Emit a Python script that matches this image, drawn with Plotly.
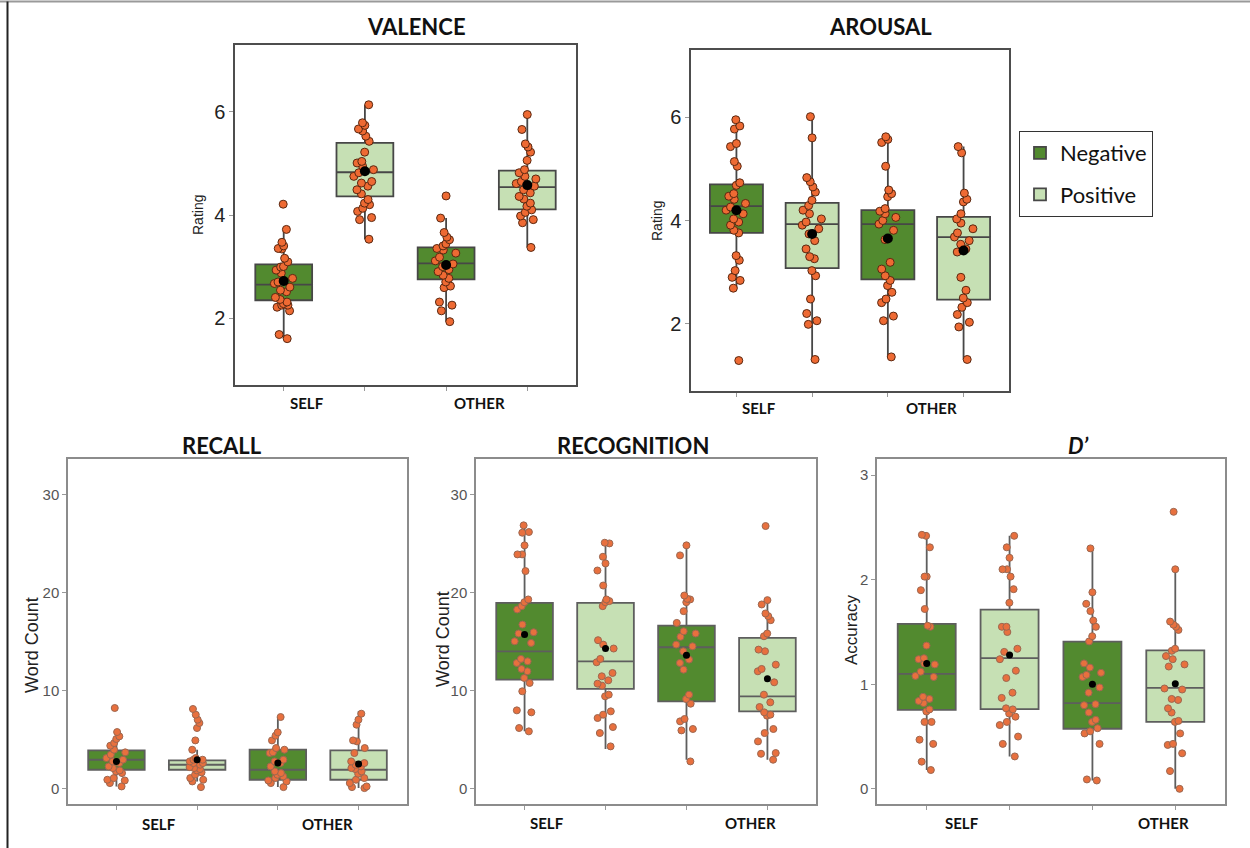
import plotly.graph_objects as go

# ---------------- data ----------------
groups = ["Self Negative", "Self Positive", "Other Negative", "Other Positive"]
conditions = ["Negative", "Positive", "Negative", "Positive"]
group_pos = [1, 2, 3, 4]
legend_labels = ["Negative", "Positive"]

valence_self_neg = [4.21, 3.72, 3.47, 3.40, 3.35, 3.34, 3.16, 3.09, 2.99, 2.93, 3.00, 2.87, 2.77, 2.70, 2.67, 2.60, 2.54, 2.51, 2.40, 2.36, 2.31, 2.28, 2.25, 2.21, 2.14, 2.25, 1.68, 1.60]
valence_self_pos = [6.14, 5.79, 5.74, 5.67, 5.63, 5.53, 5.43, 5.22, 5.04, 5.01, 4.95, 4.88, 4.82, 4.75, 4.65, 4.62, 4.56, 4.49, 4.41, 4.30, 4.23, 4.20, 4.13, 4.07, 3.95, 3.91, 3.53]
valence_other_neg = [4.37, 3.94, 3.66, 3.57, 3.52, 3.44, 3.40, 3.35, 3.32, 3.26, 3.18, 3.11, 3.05, 3.00, 2.94, 2.90, 2.83, 2.77, 2.70, 2.62, 2.59, 2.31, 2.25, 2.14, 1.93]
valence_other_pos = [5.95, 5.66, 5.38, 5.32, 5.22, 5.06, 4.88, 4.82, 4.75, 4.70, 4.65, 4.61, 4.56, 4.49, 4.43, 4.36, 4.31, 4.23, 4.17, 4.10, 4.05, 3.98, 3.91, 3.85, 3.37]
valence_q1 = [2.345, 4.36, 2.75, 4.11]
valence_median = [2.65, 4.83, 3.06, 4.54]
valence_q3 = [3.04, 5.40, 3.37, 4.86]
valence_low = [1.60, 3.53, 1.93, 3.37]
valence_high = [3.72, 6.14, 3.94, 5.95]
valence_mean = [2.72, 4.85, 3.03, 4.58]
valence_ticks = [2, 4, 6]

arousal_self_neg = [5.95, 5.83, 5.77, 5.49, 5.43, 5.14, 5.05, 4.73, 4.68, 4.52, 4.47, 4.41, 4.33, 4.26, 4.20, 4.13, 4.03, 3.97, 3.91, 3.81, 3.76, 3.32, 3.23, 3.03, 2.90, 2.84, 2.69, 1.29]
arousal_self_pos = [6.01, 5.60, 4.83, 4.75, 4.65, 4.55, 4.39, 4.29, 4.20, 4.13, 4.03, 3.97, 3.91, 3.84, 3.74, 3.61, 3.45, 3.30, 3.26, 3.03, 2.93, 2.48, 2.20, 2.06, 1.99, 1.31]
arousal_other_neg = [5.62, 5.57, 5.51, 5.05, 4.59, 4.52, 4.46, 4.23, 4.18, 4.13, 4.06, 4.00, 3.93, 3.81, 3.63, 3.19, 3.06, 2.93, 2.84, 2.74, 2.61, 2.48, 2.41, 2.15, 2.06, 1.36]
arousal_other_pos = [5.43, 5.31, 4.53, 4.41, 4.36, 4.13, 4.03, 3.95, 3.84, 3.76, 3.68, 3.61, 3.54, 3.45, 3.39, 2.90, 2.65, 2.50, 2.41, 2.32, 2.18, 2.03, 1.94, 1.31]
arousal_q1 = [3.76, 3.08, 2.86, 2.47]
arousal_median = [4.28, 3.93, 3.93, 3.68]
arousal_q3 = [4.70, 4.34, 4.20, 4.07]
arousal_low = [2.69, 1.31, 1.36, 1.31]
arousal_high = [5.95, 6.01, 5.62, 5.43]
arousal_mean = [4.20, 3.74, 3.65, 3.42]
arousal_ticks = [2, 4, 6]

recall_self_neg = [8.23, 5.78, 5.34, 4.66, 3.98, 3.71, 3.47, 3.13, 2.79, 2.62, 2.28, 1.87, 1.60, 1.09, 0.85, 0.58, 0.24, 5.07, 4.39, 2.11, 2.96, 1.77, 0.92]
recall_self_pos = [8.13, 7.55, 7.04, 6.70, 6.19, 4.93, 3.98, 3.13, 2.96, 2.79, 2.62, 2.45, 2.21, 2.01, 1.87, 1.67, 1.43, 1.09, 0.92, 0.75, 0.17, 2.96, 2.62, 2.11]
recall_other_neg = [7.31, 5.75, 5.41, 4.93, 4.15, 3.98, 3.71, 2.79, 2.62, 1.77, 1.60, 1.26, 1.09, 0.85, 0.58, 0.17, 2.96, 2.28, 1.43, 0.75, 3.64]
recall_other_pos = [7.65, 7.04, 6.53, 4.93, 4.83, 4.15, 3.64, 2.62, 2.45, 2.28, 2.01, 1.77, 1.53, 1.09, 0.92, 0.58, 0.17, 0.07, 0.24, 2.79, 2.11]
recall_q1 = [1.94, 1.94, 0.92, 0.92]
recall_median = [2.96, 2.45, 1.94, 1.94]
recall_q3 = [3.91, 2.89, 3.98, 3.91]
recall_low = [0.24, 0.75, 0.17, 0.07]
recall_high = [5.78, 3.98, 7.31, 7.89]
recall_mean = [2.79, 2.96, 2.62, 2.52]
count_ticks = [0, 10, 20, 30]

recognition_self_neg = [26.84, 26.16, 26.09, 24.80, 23.88, 23.88, 22.18, 19.29, 19.01, 18.61, 18.27, 16.73, 15.95, 15.82, 15.03, 14.86, 13.23, 12.99, 12.82, 12.21, 11.97, 11.29, 10.78, 9.93, 7.99, 7.79, 6.19, 5.85]
recognition_self_pos = [25.07, 25.00, 23.64, 22.96, 22.24, 20.71, 19.29, 19.12, 18.61, 19.01, 15.14, 14.69, 14.29, 13.23, 12.89, 11.80, 11.46, 11.05, 10.71, 10.51, 9.59, 9.42, 7.89, 7.55, 7.21, 6.29, 5.68, 4.32]
recognition_other_neg = [24.80, 23.78, 19.35, 19.29, 19.69, 19.01, 18.10, 16.90, 16.05, 15.82, 15.48, 14.69, 14.52, 14.01, 13.16, 12.82, 12.14, 9.59, 9.15, 8.67, 7.11, 6.87, 6.09, 5.95, 2.79]
recognition_other_pos = [26.77, 19.22, 18.78, 17.86, 17.59, 17.18, 15.82, 15.54, 14.18, 14.01, 12.65, 12.21, 11.97, 10.85, 9.59, 8.81, 8.33, 7.79, 7.55, 7.45, 6.09, 5.68, 4.83, 3.64, 2.96, 3.57]
recognition_q1 = [11.12, 10.17, 8.91, 7.89]
recognition_median = [14.01, 12.99, 14.42, 9.42]
recognition_q3 = [18.95, 18.95, 16.63, 15.37]
recognition_low = [5.85, 4.05, 2.96, 2.96]
recognition_high = [26.9, 25.1, 24.9, 19.2]
recognition_mean = [15.71, 14.29, 13.61, 11.22]

dprime_self_neg = [2.43, 2.42, 2.31, 2.03, 2.03, 1.90, 1.72, 1.56, 1.55, 1.37, 1.25, 1.24, 1.20, 1.19, 1.12, 1.08, 1.07, 0.88, 0.86, 0.84, 0.82, 0.76, 0.74, 0.64, 0.64, 0.47, 0.43, 0.26, 0.18]
dprime_self_pos = [2.42, 2.31, 2.21, 2.10, 2.10, 2.03, 1.91, 1.78, 1.55, 1.50, 1.34, 1.31, 1.24, 1.13, 1.06, 0.92, 0.87, 0.77, 0.76, 0.72, 0.69, 0.64, 0.61, 0.50, 0.43, 0.31, 1.55]
dprime_other_neg = [2.30, 1.88, 1.77, 1.70, 1.61, 1.55, 1.46, 1.41, 1.20, 1.16, 1.11, 1.09, 1.07, 0.97, 0.92, 0.81, 0.80, 0.73, 0.66, 0.64, 0.58, 0.55, 0.53, 0.43, 0.09, 0.08]
dprime_other_pos = [2.65, 2.10, 1.60, 1.57, 1.55, 1.52, 1.34, 1.32, 1.27, 1.24, 1.19, 1.17, 0.96, 0.95, 0.86, 0.85, 0.77, 0.73, 0.65, 0.64, 0.53, 0.43, 0.42, 0.34, 0.17, 0.00]
dprime_q1 = [0.756, 0.763, 0.575, 0.64]
dprime_median = [1.10, 1.25, 0.82, 0.965]
dprime_q3 = [1.577, 1.714, 1.408, 1.325]
dprime_low = [0.18, 0.31, 0.08, 0.0]
dprime_high = [2.43, 2.42, 2.30, 2.10]
dprime_mean = [1.20, 1.28, 1.00, 1.005]
dprime_ticks = [0, 1, 2, 3]

# ---------------- style / layout ----------------
W, H = 1250, 848
NEG_FILL = "#528A2F"
POS_FILL = "#C6E0B4"
fills = {"Negative": NEG_FILL, "Positive": POS_FILL}


def px_x(p):
    return p / W


def px_y(p):
    return 1 - p / H


panels = [
    dict(title="<b>VALENCE</b>", data=[valence_self_neg, valence_self_pos, valence_other_neg, valence_other_pos],
         q1=valence_q1, med=valence_median, q3=valence_q3, lo=valence_low, hi=valence_high, mean=valence_mean,
         yrange=[0.7, 7.3], ticks=valence_ticks, ytitle="Rating", box=(235, 576, 45, 385), top=True,
         title_xy=(416, 26), self_xy=(307, 403), other_xy=(479, 403), ytitle_xy=(198, 215), ytitle_size=14),
    dict(title="<b>AROUSAL</b>", data=[arousal_self_neg, arousal_self_pos, arousal_other_neg, arousal_other_pos],
         q1=arousal_q1, med=arousal_median, q3=arousal_q3, lo=arousal_low, hi=arousal_high, mean=arousal_mean,
         yrange=[0.7, 7.3], ticks=arousal_ticks, ytitle="Rating", box=(691, 1009, 50, 391), top=True,
         title_xy=(880, 26), self_xy=(759, 408), other_xy=(931, 408), ytitle_xy=(657, 221), ytitle_size=14),
    dict(title="<b>RECALL</b>", data=[recall_self_neg, recall_self_pos, recall_other_neg, recall_other_pos],
         q1=recall_q1, med=recall_median, q3=recall_q3, lo=recall_low, hi=recall_high, mean=recall_mean,
         yrange=[-1.55, 33.6], ticks=count_ticks, ytitle="Word Count", box=(68, 407, 459, 804), top=False,
         title_xy=(222, 445), self_xy=(159, 824), other_xy=(327, 824), ytitle_xy=(32, 645), ytitle_size=18),
    dict(title="<b>RECOGNITION</b>", data=[recognition_self_neg, recognition_self_pos, recognition_other_neg, recognition_other_pos],
         q1=recognition_q1, med=recognition_median, q3=recognition_q3, lo=recognition_low, hi=recognition_high, mean=recognition_mean,
         yrange=[-1.55, 33.6], ticks=count_ticks, ytitle="Word Count", box=(476, 816, 459, 804), top=False,
         title_xy=(633, 445), self_xy=(547, 823), other_xy=(750, 823), ytitle_xy=(443, 639), ytitle_size=18),
    dict(title="<b><i>D’</i></b>", data=[dprime_self_neg, dprime_self_pos, dprime_other_neg, dprime_other_pos],
         q1=dprime_q1, med=dprime_median, q3=dprime_q3, lo=dprime_low, hi=dprime_high, mean=dprime_mean,
         yrange=[-0.145, 3.155], ticks=dprime_ticks, ytitle="Accuracy", box=(877, 1225, 459, 804), top=False,
         title_xy=(1078, 445), self_xy=(962, 823), other_xy=(1163, 823), ytitle_xy=(851, 630), ytitle_size=17),
]

fig = go.Figure()
layout = dict(
    width=W, height=H, margin=dict(l=0, r=0, t=0, b=0),
    paper_bgcolor="white", plot_bgcolor="white", showlegend=True,
    legend=dict(x=px_x(1019), y=px_y(131), xanchor="left", yanchor="top",
                bordercolor="#333333", borderwidth=1, bgcolor="white",
                font=dict(family="Lato, Open Sans, sans-serif", size=22, color="#111111"),
                tracegroupgap=10),
    annotations=[], shapes=[],
)

for i, p in enumerate(panels):
    ax = "" if i == 0 else str(i + 1)
    xa, ya = "x" + ax, "y" + ax
    x0, x1, y0, y1 = p["box"]
    top = p["top"]
    frame_col = "#4d4d4d" if top else "#8c8c8c"
    box_line = "#474747" if top else "#5e5e5e"
    pt_fill = "#EE6A33" if top else "#E8703E"
    pt_edge = "#5a2811" if top else "#9c6750"
    pt_size = 8 if top else 7
    mean_size = 10 if top else 7
    tickfont = dict(family="Liberation Sans, Arial, sans-serif", size=20 if top else 15,
                    color="#222222" if top else "#555555")

    layout["xaxis" + ax] = dict(domain=[px_x(x0), px_x(x1)], range=[0.4, 4.6], tickvals=group_pos,
                                ticktext=[""] * 4, ticks="outside", ticklen=4, tickcolor="#999999",
                                showline=True, mirror=True, linecolor=frame_col, linewidth=1.5,
                                showgrid=False, zeroline=False, anchor=ya, fixedrange=True)
    layout["yaxis" + ax] = dict(domain=[px_y(y1), px_y(y0)], range=p["yrange"], tickvals=p["ticks"],
                                ticks="outside", ticklen=4, tickcolor="#999999", tickfont=tickfont,
                                showline=True, mirror=True, linecolor=frame_col, linewidth=1.5,
                                showgrid=False, zeroline=False, anchor=xa, fixedrange=True)

    for g in range(4):
        cond = conditions[g]
        fig.add_trace(go.Box(
            x=[group_pos[g]], q1=[p["q1"][g]], median=[p["med"][g]], q3=[p["q3"][g]],
            lowerfence=[p["lo"][g]], upperfence=[p["hi"][g]], width=0.7,
            fillcolor=fills[cond], line=dict(color=box_line, width=1.8), whiskerwidth=0,
            boxpoints=False, name=cond, legendgroup=cond,
            showlegend=(i == 1 and g < 2), xaxis=xa, yaxis=ya, hoverinfo="skip"))
        vals = p["data"][g]
        fig.add_trace(go.Box(
            x=[group_pos[g]] * len(vals), y=vals, width=0.7, boxpoints="all", jitter=0.4, pointpos=0,
            fillcolor="rgba(0,0,0,0)", line=dict(color="rgba(0,0,0,0)", width=0),
            marker=dict(color=pt_fill, size=pt_size, line=dict(color=pt_edge, width=1)),
            name=groups[g], showlegend=False, xaxis=xa, yaxis=ya))
    fig.add_trace(go.Scatter(
        x=group_pos, y=p["mean"], mode="markers", marker=dict(color="black", size=mean_size),
        showlegend=False, name="Mean", xaxis=xa, yaxis=ya))

    tfont = dict(family="Lato, Open Sans, sans-serif", size=22, color="#111111")
    lfont = dict(family="Lato, Open Sans, sans-serif", size=15, color="#111111")
    tx, ty = p["title_xy"]
    layout["annotations"].append(dict(text=p["title"], x=px_x(tx), y=px_y(ty), xref="paper", yref="paper",
                                      showarrow=False, font=tfont, xanchor="center", yanchor="middle"))
    for lab, key in (("<b>SELF</b>", "self_xy"), ("<b>OTHER</b>", "other_xy")):
        lx, ly = p[key]
        layout["annotations"].append(dict(text=lab, x=px_x(lx), y=px_y(ly), xref="paper", yref="paper",
                                          showarrow=False, font=lfont, xanchor="center", yanchor="middle"))
    yx, yy = p["ytitle_xy"]
    layout["annotations"].append(dict(text=p["ytitle"], x=px_x(yx), y=px_y(yy), xref="paper", yref="paper",
                                      showarrow=False, textangle=-90, xanchor="center", yanchor="middle",
                                      font=dict(family="Liberation Sans, Arial, sans-serif",
                                                size=p["ytitle_size"], color="#222222")))

# outer frame lines (top and left) of the figure image
layout["shapes"].append(dict(type="line", xref="paper", yref="paper", x0=0, x1=1, y0=px_y(1.5), y1=px_y(1.5),
                             line=dict(color="#9a9a9a", width=2)))
layout["shapes"].append(dict(type="line", xref="paper", yref="paper", x0=px_x(7.5), x1=px_x(7.5), y0=0, y1=px_y(1.5),
                             line=dict(color="#222222", width=2)))

fig.update_layout(**layout)
fig.write_html("out.html")
